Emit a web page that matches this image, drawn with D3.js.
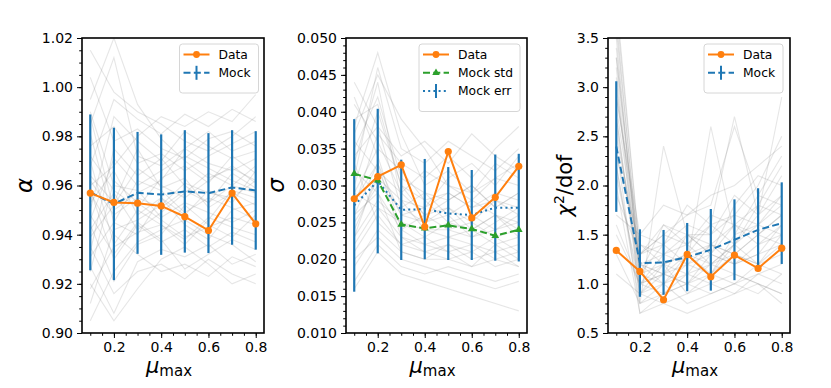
<!DOCTYPE html>
<html>
<head>
<meta charset="utf-8">
<script src="https://cdn.jsdelivr.net/npm/d3@7"></script>
<style>
  body { margin: 0; background: #fff; }
  svg { font-family: "DejaVu Sans", sans-serif; }
</style>
</head>
<body>
<svg id="chart" width="831" height="388"></svg>
<script>
// mu_max grid
const muMax = [0.1, 0.2, 0.3, 0.4, 0.5, 0.6, 0.7, 0.8]

// alpha panel
const alphaData = [0.9569, 0.9531, 0.9528, 0.9517, 0.9473, 0.9417, 0.9569, 0.9444]
const alphaMock = [0.9572, 0.9525, 0.9570, 0.9563, 0.9576, 0.9569, 0.9592, 0.9580]
const alphaMockErr = [0.0317, 0.0310, 0.0248, 0.0245, 0.0249, 0.0244, 0.0233, 0.0241]
const alphaTicks = [0.90, 0.92, 0.94, 0.96, 0.98, 1.00, 1.02]
const alphaMocks = [
  [0.962,0.948,0.955,0.951,0.958,0.953,0.960,0.957],
  [0.931,0.945,0.962,0.958,0.949,0.955,0.951,0.946],
  [0.985,1.012,0.972,0.968,0.975,0.969,0.966,0.971],
  [0.918,0.935,0.941,0.944,0.938,0.947,0.943,0.940],
  [0.972,0.958,0.951,0.963,0.968,0.961,0.972,0.965],
  [0.944,0.921,0.936,0.940,0.952,0.944,0.939,0.948],
  [1.004,0.978,0.983,0.975,0.971,0.979,0.982,0.976],
  [0.953,0.966,0.948,0.955,0.944,0.938,0.950,0.953],
  [0.927,0.908,0.929,0.934,0.931,0.936,0.928,0.932],
  [0.968,0.995,0.987,0.981,0.989,0.984,0.991,0.986],
  [0.939,0.952,0.967,0.960,0.955,0.962,0.968,0.961],
  [0.990,0.960,0.958,0.947,0.953,0.949,0.945,0.950],
  [0.912,0.942,0.946,0.952,0.961,0.957,0.955,0.962],
  [0.958,0.930,0.944,0.937,0.942,0.935,0.941,0.937],
  [0.976,0.984,0.969,0.973,0.966,0.972,0.977,0.982],
  [0.946,0.971,0.960,0.966,0.972,0.967,0.962,0.958],
  [1.015,0.998,0.990,0.985,0.978,0.974,0.980,0.988],
  [0.935,0.916,0.925,0.928,0.922,0.930,0.924,0.920],
  [0.964,0.953,0.975,0.959,0.963,0.951,0.957,0.952],
  [0.925,0.962,0.953,0.946,0.939,0.943,0.947,0.944],
  [0.981,0.945,0.940,0.955,0.948,0.958,0.953,0.966],
  [0.950,0.988,0.978,0.970,0.982,0.976,0.971,0.974],
  [0.905,0.925,0.937,0.942,0.946,0.940,0.936,0.929],
  [0.970,0.936,0.950,0.944,0.936,0.946,0.958,0.955],
  [0.942,0.957,0.942,0.949,0.957,0.965,0.960,0.968],
  [0.995,1.020,0.993,0.979,0.970,0.963,0.967,0.962],
  [0.957,0.940,0.932,0.925,0.928,0.923,0.931,0.927],
  [0.933,0.975,0.964,0.971,0.960,0.953,0.965,0.959],
  [0.988,0.950,0.957,0.962,0.975,0.982,0.974,0.978],
  [0.920,0.905,0.918,0.930,0.935,0.928,0.920,0.924],
  [0.960,0.968,0.980,0.988,0.984,0.990,0.986,0.997],
  [0.948,0.932,0.945,0.938,0.926,0.932,0.938,0.934]
]

// sigma panel
const sigmaData = [0.0282, 0.0312, 0.0328, 0.0244, 0.0346, 0.0256, 0.0284, 0.0326]
const sigmaMockStd = [0.0316, 0.0307, 0.0247, 0.0242, 0.0246, 0.0241, 0.0232, 0.0240]
const sigmaMockErr = [0.0273, 0.0306, 0.0267, 0.0268, 0.0262, 0.0260, 0.0270, 0.0270]
const sigmaMockErrBar = [0.0117, 0.0098, 0.0068, 0.0068, 0.0063, 0.0061, 0.0072, 0.0073]
const sigmaTicks = [0.010, 0.015, 0.020, 0.025, 0.030, 0.035, 0.040, 0.045, 0.050]
const sigmaMocks = [
  [0.028,0.033,0.026,0.025,0.027,0.024,0.026,0.025],
  [0.035,0.042,0.031,0.029,0.028,0.030,0.027,0.029],
  [0.022,0.027,0.023,0.022,0.021,0.022,0.020,0.021],
  [0.041,0.036,0.029,0.032,0.030,0.028,0.031,0.030],
  [0.019,0.024,0.021,0.020,0.022,0.020,0.021,0.019],
  [0.031,0.046,0.035,0.033,0.036,0.034,0.032,0.035],
  [0.026,0.029,0.024,0.026,0.024,0.025,0.023,0.024],
  [0.044,0.038,0.027,0.025,0.026,0.023,0.025,0.027],
  [0.024,0.031,0.028,0.027,0.029,0.027,0.029,0.028],
  [0.033,0.025,0.022,0.023,0.021,0.019,0.022,0.020],
  [0.017,0.022,0.019,0.018,0.019,0.018,0.017,0.018],
  [0.038,0.048,0.037,0.030,0.032,0.029,0.033,0.031],
  [0.029,0.035,0.032,0.028,0.025,0.026,0.024,0.026],
  [0.023,0.028,0.025,0.024,0.023,0.024,0.022,0.023],
  [0.036,0.032,0.026,0.027,0.031,0.033,0.030,0.034],
  [0.021,0.026,0.022,0.021,0.020,0.021,0.019,0.020],
  [0.030,0.040,0.030,0.026,0.027,0.025,0.028,0.026],
  [0.042,0.034,0.024,0.022,0.023,0.022,0.021,0.022],
  [0.027,0.037,0.033,0.031,0.034,0.031,0.035,0.038],
  [0.025,0.030,0.027,0.029,0.026,0.028,0.026,0.024],
  [0.033,0.044,0.028,0.024,0.024,0.023,0.024,0.025],
  [0.020,0.023,0.020,0.019,0.018,0.017,0.016,0.017],
  [0.034,0.038,0.034,0.036,0.033,0.037,0.034,0.032],
  [0.026,0.033,0.023,0.021,0.022,0.021,0.023,0.021],
  [0.039,0.041,0.030,0.028,0.029,0.027,0.028,0.027],
  [0.016,0.021,0.018,0.017,0.016,0.015,0.014,0.013],
  [0.029,0.027,0.025,0.023,0.025,0.024,0.026,0.023],
  [0.037,0.045,0.039,0.035,0.030,0.029,0.031,0.033],
  [0.023,0.032,0.029,0.026,0.028,0.030,0.027,0.029],
  [0.032,0.029,0.021,0.020,0.020,0.019,0.020,0.019]
]

// chi2/dof panel
const chi2Data = [1.340, 1.126, 0.838, 1.299, 1.072, 1.292, 1.157, 1.363]
const chi2Mock = [2.396, 1.211, 1.218, 1.272, 1.346, 1.448, 1.549, 1.617]
const chi2MockErr = [0.664, 0.343, 0.330, 0.347, 0.415, 0.411, 0.423, 0.415]
const chi2Ticks = [0.5, 1.0, 1.5, 2.0, 2.5, 3.0, 3.5]
const chi2Mocks = [
  [2.6,1.1,1.2,1.3,1.1,1.4,1.2,1.5],
  [3.2,0.9,1.0,1.1,1.2,1.3,1.5,1.4],
  [1.9,1.3,1.5,1.4,1.6,1.7,1.6,1.9],
  [3.6,1.2,1.1,1.0,1.3,1.2,1.4,1.6],
  [2.2,0.8,0.9,1.0,0.9,1.0,1.1,1.2],
  [2.9,1.4,1.3,1.5,1.4,1.6,1.8,1.7],
  [1.5,1.0,1.1,1.2,1.3,1.2,1.3,1.4],
  [3.4,1.1,1.4,1.6,1.5,1.9,1.7,2.1],
  [2.4,0.7,0.8,0.9,1.0,1.1,1.0,0.9],
  [3.0,1.2,1.0,1.3,1.2,1.4,1.6,1.5],
  [1.7,1.5,1.8,1.7,1.9,2.0,2.2,2.4],
  [2.7,0.9,1.2,1.1,1.4,1.3,1.2,1.3],
  [3.8,1.3,1.4,1.2,1.1,1.5,1.9,1.8],
  [2.1,1.0,0.9,1.1,1.0,0.9,1.1,1.0],
  [3.3,1.1,1.6,1.4,1.7,1.6,1.5,1.7],
  [1.3,0.8,1.0,0.8,0.9,1.0,0.9,1.1],
  [2.8,1.2,1.1,1.5,1.3,1.8,2.1,2.0],
  [3.5,1.0,1.3,1.2,1.4,1.2,1.3,1.6],
  [2.3,1.4,1.2,1.3,1.6,1.4,1.7,1.9],
  [1.1,0.9,1.1,1.0,1.2,1.1,1.0,0.9],
  [3.1,0.8,2.4,1.5,1.3,1.6,1.4,1.5],
  [2.5,1.3,1.5,1.7,1.8,2.6,1.9,2.3],
  [3.7,1.1,1.0,1.2,2.6,1.5,1.6,1.8],
  [2.0,0.7,0.9,1.0,1.1,1.3,1.2,1.4],
  [2.9,1.5,1.4,1.8,1.6,2.7,1.7,2.9],
  [1.6,1.0,1.2,0.9,1.1,1.0,1.2,1.1],
  [3.3,1.2,1.3,1.4,1.2,1.4,1.8,2.2],
  [2.2,0.9,0.8,0.7,0.8,0.9,1.0,0.8],
  [3.9,1.3,1.6,1.5,1.5,1.7,2.0,2.5],
  [2.7,1.0,1.1,1.3,1.4,1.3,1.5,1.7]
]

const xTicks = [0.2, 0.4, 0.6, 0.8]

const orange = "#ff7f0e", blue = "#1f77b4", green = "#2ca02c"
const plotTop = 38, plotBottom = 333
const svg = d3.select("#chart")

function drawPanel(p, idx) {
  const x = d3.scaleLinear().domain([0.065, 0.835]).range([p.left, p.right])
  const y = d3.scaleLinear().domain(p.yDomain).range([plotBottom, plotTop])
  const g = svg.append("g")

  g.append("clipPath").attr("id", "clip" + idx)
    .append("rect").attr("x", p.left).attr("y", plotTop)
    .attr("width", p.right - p.left).attr("height", plotBottom - plotTop)

  const plot = g.append("g").attr("clip-path", `url(#clip${idx})`)
  const line = d3.line().x((d, i) => x(muMax[i])).y(d => y(d))

  // individual mocks
  plot.selectAll(".mock").data(p.mocks).enter().append("path")
    .attr("d", line).attr("fill", "none")
    .attr("stroke", "#808080").attr("stroke-opacity", 0.2).attr("stroke-width", 1.1)

  // error bars
  plot.selectAll(".eb").data(p.errCenter).enter().append("line")
    .attr("x1", (d, i) => x(muMax[i])).attr("x2", (d, i) => x(muMax[i]))
    .attr("y1", (d, i) => y(d - p.err[i])).attr("y2", (d, i) => y(d + p.err[i]))
    .attr("stroke", blue).attr("stroke-width", 2.2)

  p.series.forEach(s => {
    plot.append("path").datum(s.values).attr("d", line).attr("fill", "none")
      .attr("stroke", s.color).attr("stroke-width", 2)
      .attr("stroke-dasharray", s.dash || null)
    if (s.marker === "circle") {
      plot.selectAll(null).data(s.values).enter().append("circle")
        .attr("cx", (d, i) => x(muMax[i])).attr("cy", d => y(d))
        .attr("r", 3.6).attr("fill", s.color)
    } else if (s.marker === "triangle") {
      plot.selectAll(null).data(s.values).enter().append("path")
        .attr("d", d3.symbol(d3.symbolTriangle, 26))
        .attr("transform", (d, i) => `translate(${x(muMax[i])},${y(d)})`)
        .attr("fill", s.color)
    }
  })

  // axes
  g.append("g").attr("transform", `translate(${p.left},0)`)
    .call(d3.axisLeft(y).tickValues(p.yTicks).tickSize(5).tickPadding(4).tickFormat(d3.format(p.fmt)))
  const yMinor = d3.range(p.yDomain[0], p.yDomain[1] + p.minor / 2, p.minor)
  g.append("g").attr("transform", `translate(${p.left},0)`)
    .call(d3.axisLeft(y).tickValues(yMinor).tickSize(2.8).tickFormat(""))
  g.append("g").attr("transform", `translate(0,${plotBottom})`)
    .call(d3.axisBottom(x).tickValues(xTicks).tickSize(5).tickPadding(4).tickFormat(d3.format(".1f")))
  g.append("g").attr("transform", `translate(0,${plotBottom})`)
    .call(d3.axisBottom(x).tickValues(d3.range(0.1, 0.826, 0.05)).tickSize(2.8).tickFormat(""))
  g.selectAll(".domain").remove()
  g.selectAll(".tick line").attr("stroke", "#000").attr("stroke-width", 1)
  g.selectAll(".tick text").attr("font-size", 14).attr("fill", "#000")
    .attr("font-family", "DejaVu Sans")

  g.append("rect").attr("x", p.left).attr("y", plotTop)
    .attr("width", p.right - p.left).attr("height", plotBottom - plotTop)
    .attr("fill", "none").attr("stroke", "#000").attr("stroke-width", 1.6)

  // x label
  const xl = g.append("text").attr("x", (p.left + p.right) / 2 - 4).attr("y", 373)
    .attr("text-anchor", "middle").attr("font-size", 21)
  xl.append("tspan").attr("font-style", "italic").text("μ")
  xl.append("tspan").attr("font-size", 15).attr("dy", 3).text("max")

  // y label
  const yl = g.append("text")
    .attr("transform", `translate(${p.left - p.ylabOff},${(plotTop + plotBottom) / 2}) rotate(-90)`)
    .attr("text-anchor", "middle").attr("font-size", 21)
  p.ylabel(yl)

  // legend
  const lg = g.append("g").attr("transform", `translate(${p.legX},44)`)
  lg.append("rect").attr("width", p.legW).attr("height", 12 + 18.5 * p.legend.length)
    .attr("rx", 3).attr("fill", "#fff").attr("fill-opacity", 0.8)
    .attr("stroke", "#d6d6d6").attr("stroke-width", 1)
  p.legend.forEach((e, i) => {
    const cy = 10.5 + 18.3 * i
    lg.append("line").attr("x1", 4).attr("x2", 30).attr("y1", cy).attr("y2", cy)
      .attr("stroke", e.color).attr("stroke-width", 2).attr("stroke-dasharray", e.dash || null)
    if (e.marker === "circle") lg.append("circle").attr("cx", 17).attr("cy", cy).attr("r", 3.4).attr("fill", e.color)
    if (e.marker === "triangle") lg.append("path").attr("d", d3.symbol(d3.symbolTriangle, 24))
      .attr("transform", `translate(17,${cy})`).attr("fill", e.color)
    if (e.marker === "bar") lg.append("line").attr("x1", 17).attr("x2", 17)
      .attr("y1", cy - 7).attr("y2", cy + 7).attr("stroke", e.color).attr("stroke-width", 2)
    lg.append("text").attr("x", 39).attr("y", cy + 4.3).attr("font-size", 12.3).text(e.label)
  })
}

drawPanel({
  left: 82, right: 264, yDomain: [0.90, 1.02], yTicks: alphaTicks, minor: 0.005, fmt: ".2f",
  mocks: alphaMocks, errCenter: alphaMock, err: alphaMockErr,
  series: [
    { values: alphaMock, color: blue, dash: "7,3.3" },
    { values: alphaData, color: orange, marker: "circle" }
  ],
  legX: 179.5, legW: 79, ylabOff: 50,
  legend: [
    { label: "Data", color: orange, marker: "circle" },
    { label: "Mock", color: blue, dash: "7,3.3", marker: "bar" }
  ],
  ylabel: t => t.attr("font-size", 23).attr("font-style", "italic").text("α")
}, 0)

drawPanel({
  left: 346, right: 527, yDomain: [0.010, 0.050], yTicks: sigmaTicks, minor: 0.001, fmt: ".3f",
  mocks: sigmaMocks, errCenter: sigmaMockErr, err: sigmaMockErrBar,
  series: [
    { values: sigmaMockErr, color: blue, dash: "2,3.2" },
    { values: sigmaMockStd, color: green, dash: "7,3.3", marker: "triangle" },
    { values: sigmaData, color: orange, marker: "circle" }
  ],
  legX: 419, legW: 101, ylabOff: 62,
  legend: [
    { label: "Data", color: orange, marker: "circle" },
    { label: "Mock std", color: green, dash: "7,3.3", marker: "triangle" },
    { label: "Mock err", color: blue, dash: "2,3.2", marker: "bar" }
  ],
  ylabel: t => t.attr("font-size", 23).attr("font-style", "italic").text("σ")
}, 1)

drawPanel({
  left: 608, right: 790, yDomain: [0.5, 3.5], yTicks: chi2Ticks, minor: 0.1, fmt: ".1f",
  mocks: chi2Mocks, errCenter: chi2Mock, err: chi2MockErr,
  series: [
    { values: chi2Mock, color: blue, dash: "7,3.3" },
    { values: chi2Data, color: orange, marker: "circle" }
  ],
  legX: 704, legW: 79, ylabOff: 36,
  legend: [
    { label: "Data", color: orange, marker: "circle" },
    { label: "Mock", color: blue, dash: "7,3.3", marker: "bar" }
  ],
  ylabel: t => {
    t.append("tspan").attr("font-style", "italic").text("χ")
    t.append("tspan").attr("font-size", 14).attr("dy", -8).text("2")
    t.append("tspan").attr("dy", 8).text("/dof")
  }
}, 2)
</script>
</body>
</html>
